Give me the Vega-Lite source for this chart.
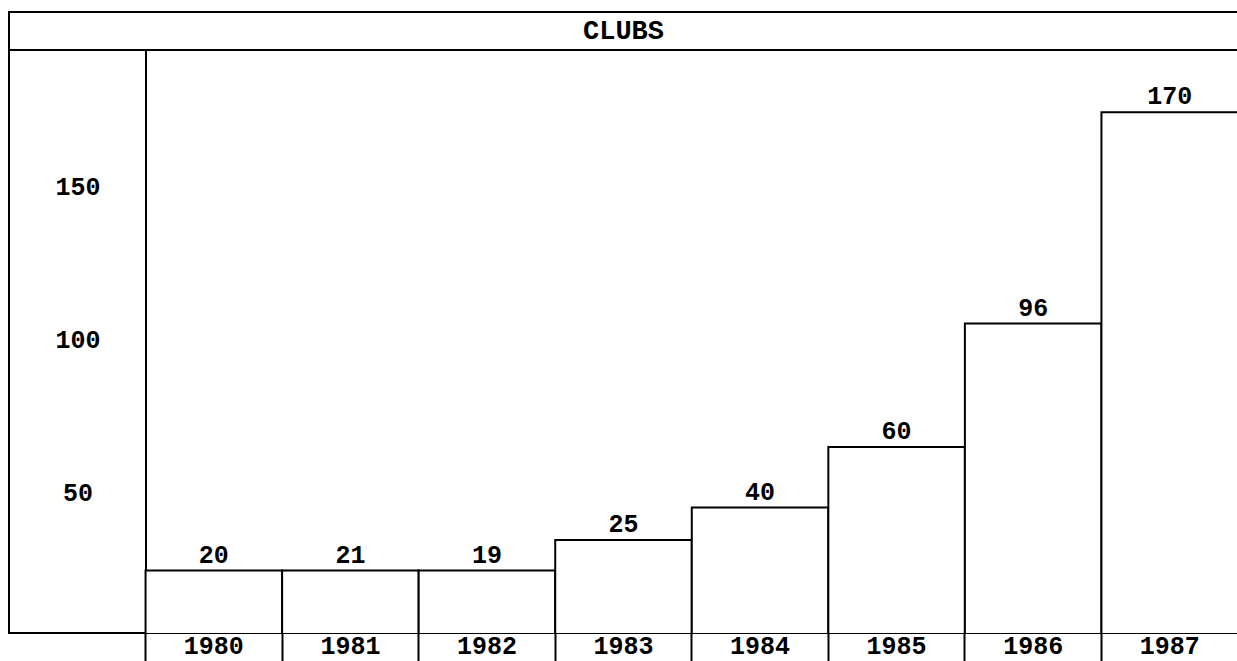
{
  "$schema": "https://vega.github.io/schema/vega-lite/v6.json",
  "padding": {"left": 8, "top": 11, "right": 0, "bottom": 0},
  "background": "white",
  "bounds": "flush",
  "spacing": 0,
  "config": {
    "view": {"stroke": "black", "strokeWidth": 2},
    "font": "Liberation Mono"
  },
  "vconcat": [
    {
      "width": 1229,
      "height": 38,
      "data": {"values": [{"title": "CLUBS"}]},
      "mark": {"type": "text", "font": "Liberation Mono", "fontWeight": "bold", "fontSize": 27, "baseline": "middle", "align": "center", "color": "black"},
      "encoding": {
        "x": {"field": "title", "type": "nominal", "axis": null},
        "y": {"field": "title", "type": "nominal", "axis": null},
        "text": {"field": "title", "type": "nominal"}
      }
    },
    {
      "width": 1229,
      "height": 583,
      "data": {"values": [
        {"year": "1980", "clubs": 20, "bar_value": 24.4},
        {"year": "1981", "clubs": 21, "bar_value": 24.4},
        {"year": "1982", "clubs": 19, "bar_value": 24.4},
        {"year": "1983", "clubs": 25, "bar_value": 34.4},
        {"year": "1984", "clubs": 40, "bar_value": 45.0},
        {"year": "1985", "clubs": 60, "bar_value": 64.8},
        {"year": "1986", "clubs": 96, "bar_value": 105.1},
        {"year": "1987", "clubs": 170, "bar_value": 174.2}
      ]},
      "encoding": {
        "x": {
          "field": "year", "type": "nominal", "sort": null,
          "scale": {"paddingInner": 0, "paddingOuter": 0.5, "align": 1},
          "axis": {
            "title": null, "domain": false, "grid": false, "ticks": true, "bandPosition": 0,
            "tickSize": 30, "tickWidth": 2, "tickColor": "black",
            "labelAngle": 0, "labelFont": "Liberation Mono", "labelFontWeight": "bold", "labelFontSize": 25,
            "labelColor": "black", "labelBaseline": "alphabetic", "labelPadding": -10
          }
        },
        "y": {
          "field": "bar_value", "type": "quantitative",
          "scale": {"domain": [4, 194.5], "zero": false, "nice": false},
          "axis": {
            "title": null, "values": [50, 100, 150], "ticks": false, "grid": false,
            "domain": true, "domainColor": "black", "domainWidth": 2, "offset": -136.5,
            "labelPadding": 68, "labelAlign": "center", "labelBaseline": "middle",
            "labelFont": "Liberation Mono", "labelFontWeight": "bold", "labelFontSize": 25, "labelColor": "black"
          }
        }
      },
      "layer": [
        {"mark": {"type": "bar", "fill": "white", "stroke": "black", "strokeWidth": 2, "clip": true}},
        {
          "mark": {"type": "text", "font": "Liberation Mono", "fontWeight": "bold", "fontSize": 25, "baseline": "alphabetic", "dy": -8, "color": "black"},
          "encoding": {"text": {"field": "clubs", "type": "quantitative"}}
        }
      ]
    }
  ]
}
